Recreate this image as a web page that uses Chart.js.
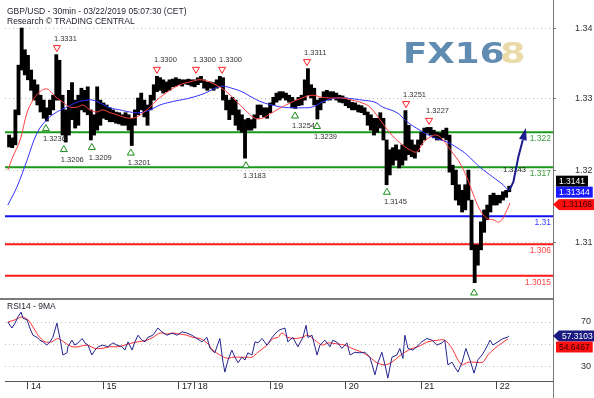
<!DOCTYPE html>
<html><head><meta charset="utf-8">
<script src="https://cdn.jsdelivr.net/npm/chart.js@4/dist/chart.umd.min.js"></script>
<style>
html,body{margin:0;padding:0;background:#fff;overflow:hidden}
#wrap{position:relative;width:594px;height:398px}
canvas{position:absolute;left:0}
#main{top:0}
#rsi{top:298px}
</style></head><body>
<div id="wrap"><canvas id="main" width="594" height="298"></canvas><canvas id="rsi" width="594" height="100"></canvas></div>
<script>
// ---------- DATA ----------
const titleLine1 = 'GBP/USD - 30min - 03/22/2019 05:07:30 (CET)';
const titleLine2 = 'Research \u00A9 TRADING CENTRAL';
const rsiTitle = 'RSI14 - 9MA';

// x unit: hours of trading time from the start of the 14th
const dayTickHours = [0, 24, 48, 53, 77, 101, 125, 149];
const dayLabels = ['14', '15', '17', '18', '19', '20', '21', '22'];

const priceTickValues = [1.3369, 1.3268, 1.3166, 1.3063];
const priceTickLabels = ['1.34', '1.33', '1.32', '1.31'];
const rsiTickValues = [30, 50, 70];
const rsiTickLabels = ['30', '', '70'];

const firstBarHour = -6;
const barHigh = [
1.3216,1.3212,1.3252,1.3316,1.3369,1.3338,1.3330,1.3309,1.3295,1.3288,
1.3273,1.3266,1.3255,1.3266,1.3273,1.3331,1.3323,1.3273,1.3252,1.3280,
1.3291,1.3266,1.3273,1.3283,1.3280,1.3285,1.3252,1.3245,1.3285,1.3266,
1.3262,1.3259,1.3255,1.3252,1.3249,1.3248,1.3245,1.3248,1.3245,1.3240,
1.3252,1.3269,1.3276,1.3266,1.3259,1.3273,1.3288,1.3300,1.3298,1.3295,
1.3292,1.3295,1.3296,1.3298,1.3296,1.3295,1.3295,1.3296,1.3295,1.3295,
1.3298,1.3300,1.3295,1.3292,1.3292,1.3291,1.3295,1.3300,1.3298,1.3273,
1.3266,1.3270,1.3266,1.3252,1.3245,1.3238,1.3240,1.3238,1.3245,1.3259,
1.3259,1.3255,1.3255,1.3262,1.3270,1.3276,1.3278,1.3278,1.3276,1.3273,
1.3270,1.3266,1.3270,1.3273,1.3295,1.3311,1.3288,1.3283,1.3266,1.3269,
1.3278,1.3280,1.3278,1.3278,1.3276,1.3273,1.3272,1.3269,1.3266,1.3263,
1.3262,1.3259,1.3258,1.3255,1.3249,1.3245,1.3240,1.3240,1.3248,1.3240,
1.3209,1.3195,1.3198,1.3202,1.3195,1.3202,1.3251,1.3230,1.3209,1.3202,
1.3209,1.3220,1.3226,1.3227,1.3227,1.3223,1.3220,1.3219,1.3223,1.3226,
1.3216,1.3173,1.3166,1.3145,1.3137,1.3145,1.3166,1.3123,1.3059,1.3059,
1.3092,1.3109,1.3116,1.3130,1.3133,1.3130,1.3130,1.3135,1.3137,1.3143];
const barLow = [
1.3199,1.3198,1.3202,1.3245,1.3309,1.3302,1.3295,1.3280,1.3266,1.3259,
1.3249,1.3240,1.3236,1.3245,1.3252,1.3266,1.3266,1.3216,1.3206,1.3216,
1.3238,1.3226,1.3230,1.3252,1.3249,1.3245,1.3209,1.3216,1.3223,1.3230,
1.3240,1.3238,1.3235,1.3235,1.3233,1.3232,1.3230,1.3230,1.3223,1.3201,
1.3230,1.3245,1.3252,1.3242,1.3230,1.3252,1.3266,1.3278,1.3280,1.3276,
1.3278,1.3280,1.3285,1.3286,1.3288,1.3286,1.3289,1.3288,1.3286,1.3285,
1.3288,1.3291,1.3283,1.3280,1.3283,1.3280,1.3283,1.3285,1.3266,1.3252,
1.3238,1.3245,1.3230,1.3223,1.3220,1.3183,1.3223,1.3223,1.3226,1.3240,
1.3245,1.3242,1.3240,1.3248,1.3259,1.3263,1.3266,1.3269,1.3266,1.3263,
1.3255,1.3254,1.3258,1.3259,1.3266,1.3273,1.3269,1.3259,1.3239,1.3252,
1.3262,1.3266,1.3266,1.3268,1.3266,1.3263,1.3262,1.3258,1.3255,1.3252,
1.3252,1.3249,1.3248,1.3245,1.3230,1.3223,1.3216,1.3220,1.3226,1.3209,
1.3145,1.3159,1.3173,1.3180,1.3169,1.3173,1.3180,1.3188,1.3185,1.3183,
1.3192,1.3202,1.3209,1.3219,1.3216,1.3212,1.3209,1.3209,1.3212,1.3209,
1.3163,1.3145,1.3123,1.3116,1.3106,1.3109,1.3123,1.3052,1.3005,1.3030,
1.3052,1.3077,1.3095,1.3106,1.3116,1.3116,1.3119,1.3123,1.3127,1.3135];

const redMaHours = [-6.4,-4.8,-2.5,-0.3,1.6,3.8,6.0,7.6,9.2,11.1,13.4,15.6,17.5,19.7,21.9,23.8,26.1,28.3,30.2,32.4,34.6,36.6,38.8,41.0,42.9,45.1,48.3,51.5,55.3,60.4,63.6,66.8,69.9,72.2,74.4,77.6,80.7,83.9,87.1,90.3,93.5,96.6,99.8,103.0,106.2,108.7,111.9,115.1,118.2,121.4,123.6,125.6,127.8,130.0,131.9,135.1,137.3,139.5,141.4,143.7,145.9,147.8,150.0,152.3,153.2];
const redMaValues = [1.3166,1.3185,1.3209,1.3248,1.3266,1.3278,1.3282,1.3276,1.3269,1.3263,1.3256,1.3256,1.3259,1.3252,1.3249,1.3252,1.3248,1.3245,1.3242,1.3240,1.3242,1.3248,1.3256,1.3266,1.3273,1.3280,1.3288,1.3292,1.3295,1.3286,1.3276,1.3262,1.3248,1.3240,1.3240,1.3248,1.3256,1.3263,1.3269,1.3273,1.3270,1.3269,1.3269,1.3266,1.3262,1.3256,1.3238,1.3219,1.3205,1.3195,1.3192,1.3205,1.3213,1.3216,1.3209,1.3190,1.3176,1.3156,1.3133,1.3109,1.3097,1.3095,1.3092,1.3109,1.3119];

const blueMaHours = [-6.4,-3.5,-0.3,2.9,6.0,9.2,12.4,15.6,18.8,20.7,22.9,26.1,29.2,32.4,35.6,38.8,42.0,45.1,48.3,51.5,56.3,59.4,61.7,64.8,68.0,71.2,74.4,77.6,80.7,83.9,87.1,90.3,93.5,96.6,99.8,103.0,106.2,110.3,112.8,117.3,120.5,124.6,128.7,133.2,136.4,139.5,143.7,147.8,151.0,152.6];
const blueMaValues = [1.3116,1.3142,1.3180,1.3219,1.3238,1.3249,1.3256,1.3263,1.3266,1.3266,1.3262,1.3255,1.3252,1.3249,1.3248,1.3252,1.3259,1.3263,1.3266,1.3269,1.3276,1.3283,1.3286,1.3283,1.3278,1.3270,1.3263,1.3259,1.3256,1.3255,1.3255,1.3256,1.3263,1.3268,1.3269,1.3268,1.3266,1.3263,1.3256,1.3248,1.3235,1.3223,1.3213,1.3206,1.3198,1.3188,1.3170,1.3156,1.3145,1.3137];

const levelValues = [1.322, 1.317, 1.31, 1.306, 1.3015];
const levelTexts = ['1.322', '1.317', '1.31', '1.306', '1.3015'];

const annHours = [9.2, 41.0, 53.4, 61.7, 88.7, 120.2, 127.5, 5.7, 11.4, 20.3, 32.7, 69.3, 84.9, 91.9, 114.1, 141.8];
const annPrices = [1.3331, 1.3300, 1.3300, 1.3300, 1.3311, 1.3251, 1.3227, 1.3236, 1.3206, 1.3209, 1.3201, 1.3183, 1.3254, 1.3239, 1.3145, 1.3001];
const annKinds = ['H','H','H','H','H','H','H','L','L','L','L','L','L','L','L','L'];
const annTexts = ['1.3331','1.3300','1.3300','1.3300','1.3311','1.3251','1.3227','1.3236','1.3206','1.3209','1.3201','1.3183','1.3254','1.3239','1.3145',''];

const arrowHours = [153.0, 154.3, 155.9, 157.3, 158.3];
const arrowPrices = [1.3137, 1.3149, 1.3185, 1.3209, 1.3226];
const arrowLabelHour = 151.0, arrowLabelPrice = 1.3166, arrowLabelText = '1.3143';

const lastPriceValues = [1.3141, 1.31344, 1.31166];
const lastPriceTexts = ['1.3141', '1.31344', '1.31166'];

const rsiHours = [-6.4,-5.1,-4.1,-3.2,-2.2,-1.6,-0.3,0.6,1.6,2.9,3.8,4.8,6.0,7.0,7.9,9.2,9.5,10.2,11.1,12.4,12.7,14.0,14.9,15.9,17.2,18.1,19.1,20.3,21.3,22.3,23.8,25.4,27.0,28.3,29.9,30.8,31.8,33.1,34.0,35.0,36.2,37.2,38.1,39.7,41.3,42.6,44.2,45.8,47.4,49.0,50.5,52.1,53.7,55.3,56.9,57.9,59.4,61.0,62.0,62.6,63.6,64.8,65.8,66.8,68.0,69.0,69.9,71.2,72.2,73.1,74.4,76.0,77.6,79.1,80.1,81.7,82.6,84.2,85.8,87.4,88.4,89.0,90.3,91.9,92.8,94.4,96.0,96.9,98.5,99.8,101.4,102.4,103.9,105.5,107.1,108.7,110.3,111.3,112.5,113.5,114.4,115.7,117.3,118.2,119.2,119.8,120.8,122.4,123.6,125.2,126.8,128.4,130.0,131.6,132.5,133.5,134.8,135.7,136.7,138.0,139.2,140.5,141.8,143.0,144.3,145.3,146.9,147.8,149.4,151.0,152.3,152.9];
const rsiValues = [70,64.5,69,74.5,79,73.5,72,64.5,58,56,53.5,52,49,52,56,69,64.5,55,40,42,47.5,53.5,49,51,55,51,49,40,44.5,47.5,49,47.5,51,49,47.5,44.5,52,44.5,52,58,53.5,52,56,58,64.5,61,58,60,58,61,60,58,55,52,56,46,42,55,33.5,24.5,35.5,44.5,38,33,38,35.5,42,40,52,51,55,49,56,61,63,64.5,52,56,47.5,56,67,56,58,40,49,53.5,47.5,53.5,51,46,51,40,42.5,42,42.5,38,22,33.5,42.5,31,19,38,40,46,37,58,46,44.5,47.5,52,55,53.5,49,51,53.5,31,33.5,29,24.5,33.5,46,35.5,23.5,35.5,40,44.5,53.5,49,52,55,56,57.3];

const rsiMaHours = [-6.4,-4.1,-1.9,0,1.6,3.2,5.4,7.6,9.5,11.8,14.0,15.9,18.8,21.3,23.5,26.1,28.6,30.8,33.1,35.0,37.8,39.7,42.0,44.2,46.1,48.3,50.5,52.4,54.7,56.9,58.8,61.0,63.3,65.2,67.4,69.6,71.2,73.1,76.0,77.9,79.5,80.7,82.6,84.9,87.1,89.0,91.2,93.5,95.4,98.5,100.8,103.0,106.2,108.7,110.9,113.5,115.7,117.6,119.8,122.1,124.0,127.1,130.3,132.5,134.8,136.4,138.0,139.9,142.1,144.6,146.2,148.4,150.7,152.6];
const rsiMaValues = [70,72,74.5,72,65.5,58,52,52,55,51,47.5,47.5,49,46,46,47.5,47.5,49,51,52,53.5,56,60,59,60,59,58,56,55,51,44.5,40,37,38,38,38,38,42.5,49,55,56,60,56,55,56,58,53.5,49,51,50,49,46,42.5,38,33,31,33.5,38,42.5,46,47.5,52,53.5,53.5,46,37,31,33.5,33.5,33.5,40,46,51,54.6];

const lastRsiValues = [57.3103, 54.6467];
const lastRsiTexts = ['57.3103', '54.6467'];

// ---------- LAYOUT / STYLE ----------
const X_MIN = -7.3, X_MAX = 166.9;
const P_MIN = 1.29831, P_MAX = 1.34091;
const R_MIN = 16.4, R_MAX = 90;
const AXIS_X = 553.5;
const FONT = '"Liberation Sans", Arial, sans-serif';
const levelColors = ['#1a9a1a', '#1a9a1a', '#1010f0', '#ff1a1a', '#ff1a1a'];
const levelTextColors = ['#3c9c3c', '#3c9c3c', '#3a3aff', '#ff4444', '#ff4444'];

Chart.defaults.font.family = FONT;

const pts = (xs, ys) => xs.map((x, i) => ({x: x, y: ys[i]}));
const barData = barHigh.map((h, i) => ({x: firstBarHour + i, y: [barLow[i], h]}));

function fixY(s) { s.width = 41; s.paddingTop = 0; s.paddingBottom = 0; }
function fixX(s) { s.height = 17; s.paddingLeft = 0; s.paddingRight = 0; }

function valueBoxes(ctx, scale, vals, texts, styles, pushDown) {
  const H = 11;
  const ys = vals.map(v => scale.getPixelForValue(v));
  if (pushDown) {
    for (let i = 1; i < ys.length; i++) if (ys[i] < ys[i-1] + H) ys[i] = ys[i-1] + H;
  } else {
    for (let i = ys.length - 2; i >= 0; i--) if (ys[i] > ys[i+1] - H) ys[i] = ys[i+1] - H;
  }
  ctx.save();
  ctx.font = '8.5px ' + FONT;
  ctx.textBaseline = 'middle';
  ys.forEach((y, i) => {
    const st = styles[i];
    const tw = ctx.measureText(texts[i]).width;
    const left = st.arrow ? 559 : 556;
    const right = Math.min(594, left + tw + 6);
    ctx.fillStyle = st.bg;
    ctx.fillRect(left, y - H/2, right - left, H);
    if (st.arrow) {
      ctx.beginPath(); ctx.moveTo(553, y); ctx.lineTo(left, y - H/2); ctx.lineTo(left, y + H/2); ctx.closePath(); ctx.fill();
    }
    ctx.fillStyle = st.fg;
    ctx.textAlign = 'left';
    ctx.fillText(texts[i], left + 3, y + 0.5);
  });
  ctx.restore();
}

const mainOverlay = {
  id: 'mainOverlay',
  beforeDatasetsDraw(chart) {
    const ctx = chart.ctx;
    ctx.save();
    ctx.font = 'bold 29px "DejaVu Sans"';
    ctx.textBaseline = 'alphabetic';
    ctx.fillStyle = '#5f8cb0';
    ctx.translate(403, 63); ctx.scale(1.23, 1); ctx.fillText('FX16', 0, 0);
    ctx.restore();
    ctx.save();
    const g = ctx.createLinearGradient(0, 42, 0, 63);
    g.addColorStop(0, '#eadaa8'); g.addColorStop(1, '#b4924c');
    ctx.fillStyle = g;
    ctx.font = 'bold 29px "DejaVu Sans"';
    ctx.translate(500, 63); ctx.scale(1.27, 1); ctx.fillText('8', 0, 0);
    ctx.restore();
  },
  afterDatasetsDraw(chart) {
    const ctx = chart.ctx, xs = chart.scales.x, ys = chart.scales.y;
    ctx.save();
    ctx.strokeStyle = '#777'; ctx.lineWidth = 1;
    ctx.beginPath(); ctx.moveTo(AXIS_X, 0); ctx.lineTo(AXIS_X, chart.height); ctx.stroke();
    ctx.font = '8.5px ' + FONT; ctx.textAlign = 'right'; ctx.textBaseline = 'middle';
    levelValues.forEach((v, i) => {
      ctx.fillStyle = levelTextColors[i];
      ctx.fillText(levelTexts[i], 551, ys.getPixelForValue(v) + 6.5);
    });
    ctx.font = '7.5px ' + FONT; ctx.textAlign = 'left';
    annHours.forEach((h, i) => {
      const cx = xs.getPixelForValue(h), py = ys.getPixelForValue(annPrices[i]);
      const hi = annKinds[i] === 'H';
      const cy = hi ? py - 6 : py + 6.5;
      ctx.beginPath();
      if (hi) { ctx.moveTo(cx - 3.5, cy - 3); ctx.lineTo(cx + 3.5, cy - 3); ctx.lineTo(cx, cy + 3); }
      else { ctx.moveTo(cx - 3.5, cy + 3); ctx.lineTo(cx + 3.5, cy + 3); ctx.lineTo(cx, cy - 3); }
      ctx.closePath();
      ctx.fillStyle = '#fff'; ctx.fill();
      ctx.strokeStyle = hi ? '#ff2020' : '#1a8c1a'; ctx.lineWidth = 1; ctx.stroke();
      if (annTexts[i]) {
        ctx.fillStyle = '#333';
        ctx.fillText(annTexts[i], cx - 3, hi ? py - 16 : py + 17.5);
      }
    });
    ctx.fillStyle = '#222';
    ctx.fillText(arrowLabelText, xs.getPixelForValue(arrowLabelHour), ys.getPixelForValue(arrowLabelPrice));
    const ap = arrowHours.map((h, i) => [xs.getPixelForValue(h), ys.getPixelForValue(arrowPrices[i])]);
    ctx.strokeStyle = '#1c1c8c'; ctx.fillStyle = '#1c1c8c'; ctx.lineWidth = 2;
    ctx.beginPath(); ctx.moveTo(ap[0][0], ap[0][1]);
    for (let i = 1; i < ap.length - 1; i++) ctx.lineTo(ap[i][0], ap[i][1]);
    ctx.stroke();
    const tip = ap[ap.length - 1], prev = ap[ap.length - 2];
    const ang = Math.atan2(tip[1] - prev[1], tip[0] - prev[0]);
    ctx.beginPath();
    ctx.moveTo(tip[0], tip[1]);
    ctx.lineTo(tip[0] - 12 * Math.cos(ang) + 4 * Math.sin(ang), tip[1] - 12 * Math.sin(ang) - 4 * Math.cos(ang));
    ctx.lineTo(tip[0] - 12 * Math.cos(ang) - 4 * Math.sin(ang), tip[1] - 12 * Math.sin(ang) + 4 * Math.cos(ang));
    ctx.closePath(); ctx.fill();
    ctx.restore();
    valueBoxes(ctx, ys, lastPriceValues, lastPriceTexts,
      [{bg:'#000', fg:'#fff', arrow:false}, {bg:'#1a1aff', fg:'#fff', arrow:false}, {bg:'#ff1010', fg:'#3a0000', arrow:true}], false);
    ctx.save();
    ctx.font = '8.5px ' + FONT; ctx.fillStyle = '#1e1e2a'; ctx.textAlign = 'left'; ctx.textBaseline = 'middle';
    ctx.fillText(titleLine1, 7, 12);
    ctx.fillText(titleLine2, 7, 22);
    ctx.restore();
  }
};

const rsiOverlay = {
  id: 'rsiOverlay',
  afterDatasetsDraw(chart) {
    const ctx = chart.ctx, ys = chart.scales.y;
    ctx.save();
    ctx.fillStyle = '#7a7a7a';
    ctx.fillRect(0, 0, 553, 2);
    ctx.strokeStyle = '#777'; ctx.lineWidth = 1;
    ctx.beginPath(); ctx.moveTo(AXIS_X, 0); ctx.lineTo(AXIS_X, chart.height); ctx.stroke();
    ctx.font = '8.5px ' + FONT; ctx.fillStyle = '#1e1e2a'; ctx.textBaseline = 'middle'; ctx.textAlign = 'left';
    ctx.fillText(rsiTitle, 7, 9);
    ctx.restore();
    valueBoxes(ctx, ys, lastRsiValues, lastRsiTexts,
      [{bg:'#1a1a80', fg:'#fff', arrow:true}, {bg:'#ff1010', fg:'#3a0000', arrow:false}], true);
  }
};

const common = {
  responsive: false, animation: false, devicePixelRatio: 1, events: [],
  plugins: {legend: {display: false}, tooltip: {enabled: false}}
};

new Chart(document.getElementById('main'), {
  type: 'line',
  data: {datasets: [
    ...levelValues.map((v, i) => ({type: 'line', data: [{x: X_MIN, y: v}, {x: X_MAX, y: v}], borderColor: levelColors[i], borderWidth: 2, pointRadius: 0, order: 5})),
    {type: 'bar', data: barData, backgroundColor: '#000', barThickness: 3.2, borderWidth: 0, order: 3},
    {type: 'line', data: pts(redMaHours, redMaValues), borderColor: '#ff4040', borderWidth: 1, pointRadius: 0, tension: 0.4, order: 1},
    {type: 'line', data: pts(blueMaHours, blueMaValues), borderColor: '#3030ff', borderWidth: 1, pointRadius: 0, tension: 0.4, order: 1}
  ]},
  options: Object.assign({}, common, {
    layout: {padding: {left: 5, right: 0, top: 0, bottom: 0}, autoPadding: false},
    scales: {
      x: {type: 'linear', min: X_MIN, max: X_MAX, display: false, offset: false},
      y: {type: 'linear', position: 'right', min: P_MIN, max: P_MAX,
          afterFit: fixY,
          afterBuildTicks: s => { s.ticks = priceTickValues.map(v => ({value: v})); },
          ticks: {callback: (v, i) => priceTickLabels[i], font: {size: 9}, color: '#333', padding: 19, autoSkip: false},
          grid: {color: '#bdbdbd', tickLength: 3, tickColor: '#777', tickWidth: 1},
          border: {display: false, dash: [1, 3]}}
    }
  }),
  plugins: [mainOverlay]
});

new Chart(document.getElementById('rsi'), {
  type: 'line',
  data: {datasets: [
    {data: pts(rsiHours, rsiValues), borderColor: '#23238f', borderWidth: 1, pointRadius: 0, tension: 0, order: 1},
    {data: pts(rsiMaHours, rsiMaValues), borderColor: '#ff3030', borderWidth: 1, pointRadius: 0, tension: 0.3, order: 2}
  ]},
  options: Object.assign({}, common, {
    layout: {padding: {left: 5, right: 0, top: 2, bottom: 0}, autoPadding: false},
    scales: {
      x: {type: 'linear', min: X_MIN, max: X_MAX, offset: false,
          afterFit: fixX,
          afterBuildTicks: s => { s.ticks = dayTickHours.map(v => ({value: v})); },
          ticks: {callback: (v, i) => dayLabels[i], align: 'start', labelOffset: 3, padding: -8, autoSkip: false, maxRotation: 0, font: {size: 9}, color: '#222'},
          grid: {drawOnChartArea: false, tickLength: 8, tickColor: '#444'},
          border: {display: true, color: '#555', width: 1}},
      y: {type: 'linear', position: 'right', min: R_MIN, max: R_MAX,
          afterFit: fixY,
          afterBuildTicks: s => { s.ticks = rsiTickValues.map(v => ({value: v})); },
          ticks: {callback: (v, i) => rsiTickLabels[i], font: {size: 9}, color: '#333', padding: 25, autoSkip: false},
          grid: {color: '#bdbdbd', tickLength: 3, tickColor: 'rgba(0,0,0,0)'},
          border: {display: false, dash: [1, 3]}}
    }
  }),
  plugins: [rsiOverlay]
});
</script>
</body></html>
